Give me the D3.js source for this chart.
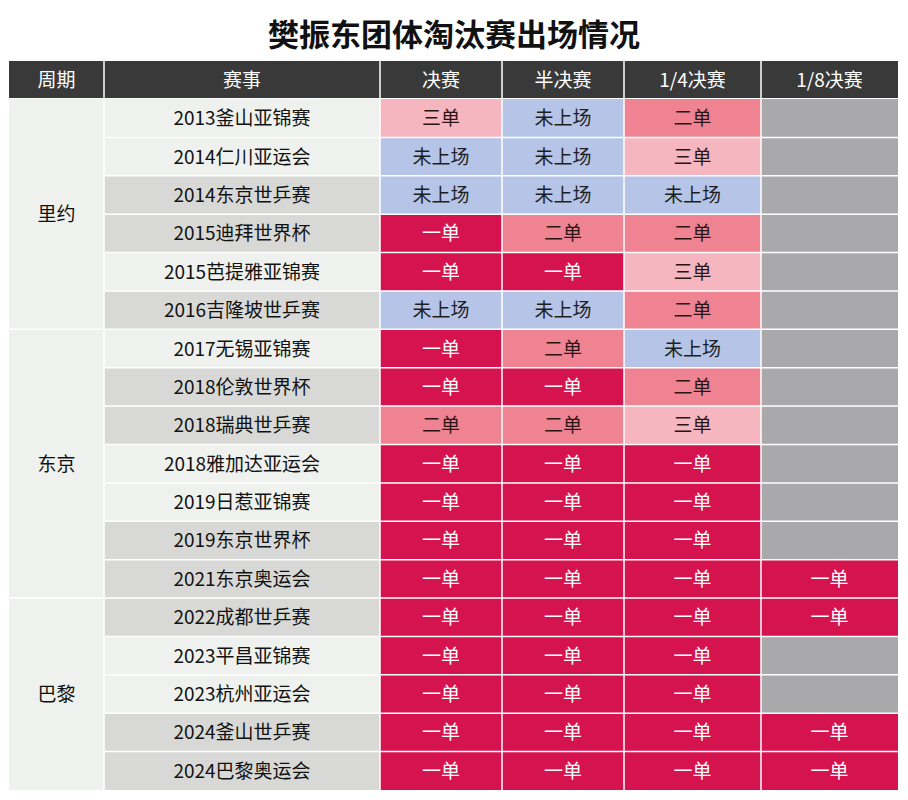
<!DOCTYPE html>
<html><head><meta charset="utf-8">
<script src="https://cdn.jsdelivr.net/npm/d3@7"></script>
<style>body{margin:0;background:#fff;font-family:"Noto Sans CJK SC",sans-serif}</style>
</head><body><svg id="chart" width="908" height="800"></svg>
<script>
const title = '樊振东团体淘汰赛出场情况';
const columns = ['决赛', '半决赛', '1/4决赛', '1/8决赛'];
const events = ['2013釜山亚锦赛','2014仁川亚运会','2014东京世乒赛','2015迪拜世界杯','2015芭提雅亚锦赛','2016吉隆坡世乒赛',
  '2017无锡亚锦赛','2018伦敦世界杯','2018瑞典世乒赛','2018雅加达亚运会','2019日惹亚锦赛','2019东京世界杯','2021东京奥运会',
  '2022成都世乒赛','2023平昌亚锦赛','2023杭州亚运会','2024釜山世乒赛','2024巴黎奥运会'];
const periods = [{name:'里约', from:0, to:5}, {name:'东京', from:6, to:12}, {name:'巴黎', from:13, to:17}];
const finals = ['三单','未上场','未上场','一单','一单','未上场','一单','一单','二单','一单','一单','一单','一单','一单','一单','一单','一单','一单'];
const semis = ['未上场','未上场','未上场','二单','一单','未上场','二单','一单','二单','一单','一单','一单','一单','一单','一单','一单','一单','一单'];
const quarters = ['二单','三单','未上场','二单','三单','二单','未上场','二单','三单','一单','一单','一单','一单','一单','一单','一单','一单','一单'];
const eighths = ['','','','','','','','','','','','','一单','一单','','','一单','一单'];
const series = [finals, semis, quarters, eighths];

const fill = {'一单':'#d5134f','二单':'#ef8392','三单':'#f6b6c0','未上场':'#b6c5e7','':'#a9a9ab'};
const textColor = {'一单':'#ffffff','二单':'#2a1515','三单':'#2a1515','未上场':'#1e1e1e','':'#000'};

const svg = d3.select('#chart');
const tLeft = 9, tRight = 898, tTop = 61, headH = 37, tBottom = 790;
const xEdges = [9, 104, 380, 502, 624, 761, 898];
const y = d3.scaleBand().domain(d3.range(events.length)).range([tTop + headH + 1, tBottom]);

svg.append('text').attr('x', 454).attr('y', 46).attr('text-anchor', 'middle')
  .attr('font-size', 31).attr('font-weight', 'bold').attr('fill', '#111').text(title);

// header
const heads = ['周期', '赛事', ...columns];
heads.forEach((h, i) => {
  svg.append('rect').attr('x', xEdges[i]).attr('y', tTop).attr('width', xEdges[i + 1] - xEdges[i]).attr('height', headH).attr('fill', '#393939');
  svg.append('text').attr('x', (xEdges[i] + xEdges[i + 1]) / 2).attr('y', tTop + headH / 2 + 7).attr('text-anchor', 'middle')
    .attr('font-size', 19).attr('fill', '#fff').text(h);
});

// periods
periods.forEach(p => {
  const y0 = y(p.from), y1 = y(p.to) + y.bandwidth();
  svg.append('rect').attr('x', xEdges[0]).attr('y', y0).attr('width', xEdges[1] - xEdges[0]).attr('height', y1 - y0).attr('fill', '#eef1ee');
  svg.append('text').attr('x', (xEdges[0] + xEdges[1]) / 2).attr('y', (y0 + y1) / 2 + 7).attr('text-anchor', 'middle')
    .attr('font-size', 19).attr('fill', '#111').text(p.name);
});

// events
events.forEach((e, i) => {
  const gray = /世界杯|世乒赛|奥运会/.test(e);
  svg.append('rect').attr('x', xEdges[1]).attr('y', y(i)).attr('width', xEdges[2] - xEdges[1]).attr('height', y.bandwidth())
    .attr('fill', gray ? '#d8d9d6' : '#eef1ee');
  svg.append('text').attr('x', (xEdges[1] + xEdges[2]) / 2).attr('y', y(i) + y.bandwidth() / 2 + 7).attr('text-anchor', 'middle')
    .attr('font-size', 19).attr('fill', '#111').text(e);
});

// cells
series.forEach((s, c) => {
  s.forEach((v, i) => {
    svg.append('rect').attr('x', xEdges[c + 2]).attr('y', y(i)).attr('width', xEdges[c + 3] - xEdges[c + 2]).attr('height', y.bandwidth()).attr('fill', fill[v]);
    if (v) svg.append('text').attr('x', (xEdges[c + 2] + xEdges[c + 3]) / 2).attr('y', y(i) + y.bandwidth() / 2 + 7)
      .attr('text-anchor', 'middle').attr('font-size', 19).attr('fill', textColor[v]).text(v);
  });
});

// grid lines
svg.append('g').selectAll('line').data(d3.range(1, events.length)).join('line')
  .attr('x1', xEdges[1]).attr('x2', tRight).attr('y1', i => y(i)).attr('y2', i => y(i)).attr('stroke', '#fff').attr('stroke-width', 1.5);
svg.append('g').selectAll('line').data(periods.slice(1)).join('line')
  .attr('x1', tLeft).attr('x2', xEdges[1]).attr('y1', p => y(p.from)).attr('y2', p => y(p.from)).attr('stroke', '#fff').attr('stroke-width', 1.5);
svg.append('g').selectAll('line').data(xEdges.slice(1, -1)).join('line')
  .attr('x1', d => d).attr('x2', d => d).attr('y1', tTop).attr('y2', tBottom).attr('stroke', '#fff').attr('stroke-width', 1.5);
</script></body></html>
